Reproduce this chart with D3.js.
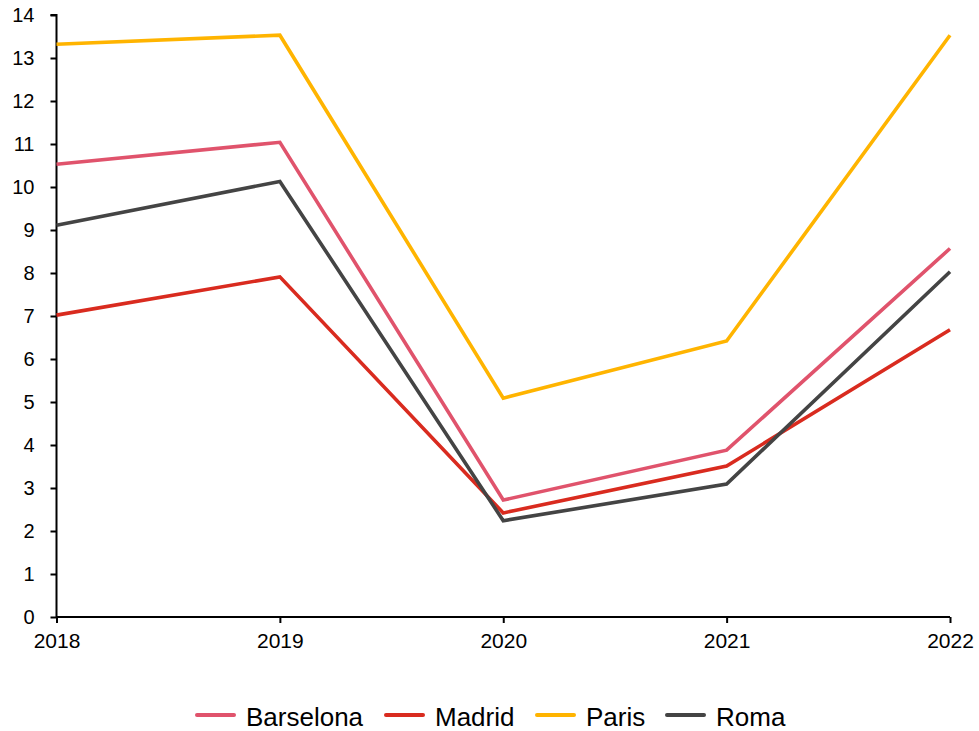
<!DOCTYPE html>
<html>
<head>
<meta charset="utf-8">
<script src="https://cdn.jsdelivr.net/npm/d3@7"></script>
<style>
  body { margin: 0; background: #fff; }
  svg { font-family: "Liberation Sans", Arial, sans-serif; }
</style>
</head>
<body>
<svg id="chart" width="979" height="731"></svg>
<script>
// data
const years = [2018, 2019, 2020, 2021, 2022];
const barselona = [10.53, 11.04, 2.72, 3.88, 8.57];
const madrid = [7.02, 7.91, 2.42, 3.51, 6.68];
const paris = [13.32, 13.53, 5.09, 6.42, 13.53];
const roma = [9.11, 10.13, 2.24, 3.09, 8.03];
const yTicks = d3.range(0, 15);

const series = [
  { name: 'Barselona', values: barselona, color: '#E0536C' },
  { name: 'Madrid', values: madrid, color: '#D92B1F' },
  { name: 'Paris', values: paris, color: '#FFB400' },
  { name: 'Roma', values: roma, color: '#444444' }
];

const svg = d3.select('#chart');

const x = d3.scaleLinear().domain([2018, 2022]).range([56.5, 950]);
const y = d3.scaleLinear().domain([0, 14]).range([617, 15]);

// y axis
const yAxis = svg.append('g')
  .attr('transform', 'translate(56.5,0)')
  .call(d3.axisLeft(y).tickValues(yTicks).tickSize(6).tickPadding(16).tickFormat(d3.format('d')));

// x axis
const xAxis = svg.append('g')
  .attr('transform', 'translate(0,617)')
  .call(d3.axisBottom(x).tickValues(years).tickSize(6).tickPadding(10).tickFormat(d3.format('d')));

[yAxis, xAxis].forEach(ax => {
  ax.select('.domain').attr('stroke', '#000').attr('stroke-width', 2);
  ax.selectAll('.tick line').attr('stroke', '#000').attr('stroke-width', 2);
  ax.selectAll('.tick text')
    .attr('fill', '#000')
    .style('font-family', '"Liberation Sans", Arial, sans-serif');
});
yAxis.selectAll('.tick text').style('font-size', '20px');
xAxis.selectAll('.tick text').style('font-size', '21px');
yAxis.select('.domain').attr('d', 'M0,617V15H-6');
xAxis.select('.domain').attr('d', `M${x(2018)},0H${x(2022)}`);

// lines
const line = d3.line()
  .x((d, i) => x(years[i]))
  .y(d => y(d));

svg.append('g')
  .selectAll('path')
  .data(series)
  .enter()
  .append('path')
  .attr('d', d => line(d.values))
  .attr('fill', 'none')
  .attr('stroke', d => d.color)
  .attr('stroke-width', 3.6)
  .attr('stroke-linejoin', 'miter');

// legend
const legendX = [197, 386, 537, 667];
const legend = svg.append('g')
  .selectAll('g')
  .data(series)
  .enter()
  .append('g')
  .attr('transform', (d, i) => `translate(${legendX[i]},715)`);

legend.append('line')
  .attr('x1', 0).attr('x2', 37)
  .attr('stroke', d => d.color)
  .attr('stroke-width', 4)
  .attr('stroke-linecap', 'round');

legend.append('text')
  .attr('x', 49)
  .attr('y', 11)
  .style('font-size', '26px')
  .attr('fill', '#000')
  .text(d => d.name);
</script>
</body>
</html>
